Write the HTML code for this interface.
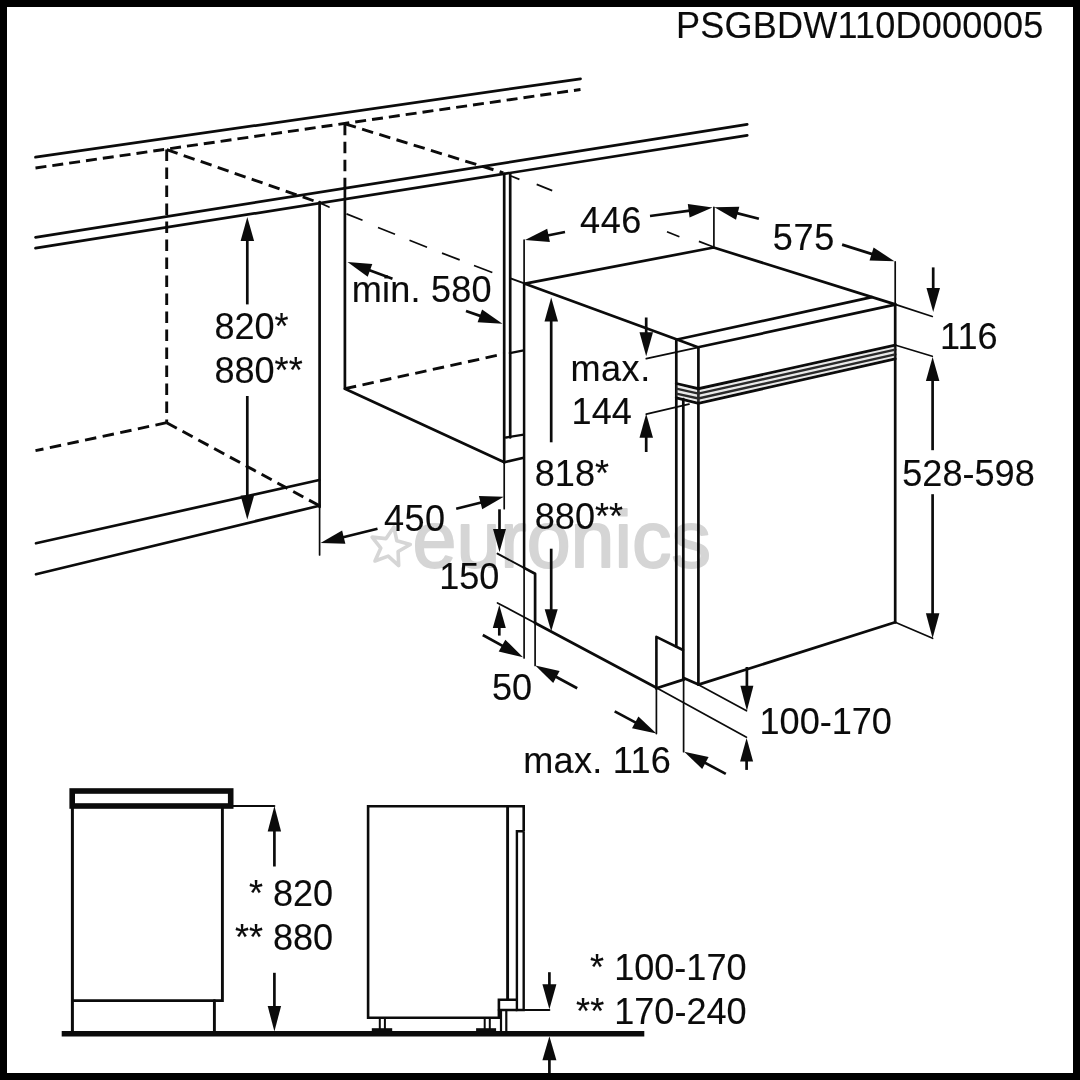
<!DOCTYPE html>
<html><head><meta charset="utf-8"><title>PSGBDW110D000005</title>
<style>
html,body{margin:0;padding:0;background:#fff;}
body{width:1080px;height:1080px;overflow:hidden;position:relative;}
svg{display:block;position:absolute;left:0;top:0;will-change:transform;}
text{font-family:"Liberation Sans",sans-serif;}
</style></head><body>
<svg width="1080" height="1080" viewBox="0 0 1080 1080">
<rect x="0" y="0" width="1080" height="1080" fill="#000"/>
<rect x="7" y="7" width="1066" height="1066" fill="#fff"/>
<text x="412.5" y="566.7" font-size="79" fill="#d5d5d5" stroke="#d5d5d5" stroke-width="1.8" stroke-linejoin="round">euronics</text>
<polygon points="393.9,526.9 396.8,540.7 410.3,544.5 398.1,551.5 398.7,565.6 388.2,556.1 375.0,561.0 380.8,548.1 372.1,537.1 386.1,538.6" fill="none" stroke="#d6d6d6" stroke-width="3.6" stroke-linejoin="round"/>
<line x1="35.5" y1="157.2" x2="580.5" y2="78.8" stroke="#0b0b0b" stroke-width="2.7" stroke-linecap="round"/>
<line x1="35.5" y1="168.0" x2="580.5" y2="89.5" stroke="#0b0b0b" stroke-width="2.9" stroke-linecap="butt" stroke-dasharray="11 6"/>
<line x1="35.5" y1="237.3" x2="747.2" y2="124.4" stroke="#0b0b0b" stroke-width="2.7" stroke-linecap="round"/>
<line x1="35.5" y1="248.2" x2="747.2" y2="135.3" stroke="#0b0b0b" stroke-width="2.7" stroke-linecap="round"/>
<line x1="166.7" y1="149.6" x2="166.7" y2="422.7" stroke="#0b0b0b" stroke-width="2.9" stroke-linecap="butt" stroke-dasharray="11.5 6.5"/>
<line x1="166.7" y1="422.7" x2="35.5" y2="450.7" stroke="#0b0b0b" stroke-width="2.9" stroke-linecap="butt" stroke-dasharray="11.5 6.5"/>
<line x1="166.7" y1="422.7" x2="319.3" y2="505.7" stroke="#0b0b0b" stroke-width="2.9" stroke-linecap="butt" stroke-dasharray="11.5 6.5"/>
<line x1="166.7" y1="149.6" x2="320.0" y2="203.0" stroke="#0b0b0b" stroke-width="2.9" stroke-linecap="butt" stroke-dasharray="11.5 6.5"/>
<line x1="320.0" y1="203.0" x2="329.0" y2="207.0" stroke="#0b0b0b" stroke-width="1.7" stroke-linecap="round"/>
<line x1="319.6" y1="202.2" x2="319.6" y2="507.0" stroke="#0b0b0b" stroke-width="2.7" stroke-linecap="round"/>
<line x1="319.6" y1="507.0" x2="319.6" y2="555.0" stroke="#0b0b0b" stroke-width="1.7" stroke-linecap="round"/>
<line x1="36.0" y1="543.3" x2="319.3" y2="480.0" stroke="#0b0b0b" stroke-width="2.7" stroke-linecap="round"/>
<line x1="36.0" y1="574.3" x2="319.3" y2="505.7" stroke="#0b0b0b" stroke-width="2.7" stroke-linecap="round"/>
<line x1="344.9" y1="123.8" x2="344.9" y2="188.0" stroke="#0b0b0b" stroke-width="2.9" stroke-linecap="butt" stroke-dasharray="11.5 6.5"/>
<line x1="344.9" y1="188.0" x2="344.9" y2="388.7" stroke="#0b0b0b" stroke-width="2.7" stroke-linecap="round"/>
<line x1="344.9" y1="123.8" x2="503.3" y2="172.8" stroke="#0b0b0b" stroke-width="2.9" stroke-linecap="butt" stroke-dasharray="11.5 6.5"/>
<line x1="344.9" y1="388.7" x2="504.3" y2="353.8" stroke="#0b0b0b" stroke-width="2.9" stroke-linecap="butt" stroke-dasharray="11.5 6.5"/>
<line x1="509.8" y1="353.1" x2="523.7" y2="350.4" stroke="#0b0b0b" stroke-width="2.2" stroke-linecap="round"/>
<line x1="344.9" y1="388.7" x2="504.3" y2="462.2" stroke="#0b0b0b" stroke-width="2.7" stroke-linecap="round"/>
<line x1="346.5" y1="213.9" x2="362.5" y2="220.3" stroke="#0b0b0b" stroke-width="1.7" stroke-linecap="butt"/>
<line x1="378.0" y1="227.5" x2="395.0" y2="234.2" stroke="#0b0b0b" stroke-width="1.7" stroke-linecap="butt"/>
<line x1="409.5" y1="240.3" x2="427.0" y2="247.2" stroke="#0b0b0b" stroke-width="1.7" stroke-linecap="butt"/>
<line x1="442.0" y1="253.1" x2="459.7" y2="259.9" stroke="#0b0b0b" stroke-width="1.7" stroke-linecap="butt"/>
<line x1="474.0" y1="265.5" x2="492.3" y2="272.5" stroke="#0b0b0b" stroke-width="1.7" stroke-linecap="butt"/>
<line x1="511.0" y1="176.0" x2="519.4" y2="179.4" stroke="#0b0b0b" stroke-width="1.7" stroke-linecap="butt"/>
<line x1="536.7" y1="184.4" x2="552.2" y2="190.6" stroke="#0b0b0b" stroke-width="1.7" stroke-linecap="butt"/>
<line x1="667.0" y1="231.7" x2="679.4" y2="236.7" stroke="#0b0b0b" stroke-width="1.7" stroke-linecap="butt"/>
<line x1="698.9" y1="241.4" x2="713.6" y2="247.0" stroke="#0b0b0b" stroke-width="1.7" stroke-linecap="butt"/>
<line x1="504.2" y1="173.9" x2="504.2" y2="462.2" stroke="#0b0b0b" stroke-width="2.7" stroke-linecap="round"/>
<line x1="510.2" y1="173.9" x2="510.2" y2="437.5" stroke="#0b0b0b" stroke-width="2.7" stroke-linecap="round"/>
<line x1="504.2" y1="462.2" x2="504.2" y2="508.7" stroke="#0b0b0b" stroke-width="1.7" stroke-linecap="round"/>
<line x1="506.0" y1="437.5" x2="523.7" y2="434.6" stroke="#0b0b0b" stroke-width="2.3" stroke-linecap="round"/>
<line x1="504.3" y1="462.2" x2="523.7" y2="457.8" stroke="#0b0b0b" stroke-width="2.7" stroke-linecap="round"/>
<line x1="524.1" y1="240.0" x2="524.1" y2="283.7" stroke="#0b0b0b" stroke-width="1.7" stroke-linecap="round"/>
<line x1="524.1" y1="283.7" x2="524.1" y2="567.9" stroke="#0b0b0b" stroke-width="2.5" stroke-linecap="round"/>
<line x1="524.1" y1="567.9" x2="524.1" y2="658.0" stroke="#0b0b0b" stroke-width="1.7" stroke-linecap="round"/>
<line x1="510.5" y1="278.3" x2="525.0" y2="283.7" stroke="#0b0b0b" stroke-width="1.9" stroke-linecap="round"/>
<polyline points="677.0,339.5 525.0,283.7 713.7,247.5 895.2,304.4" fill="none" stroke="#0b0b0b" stroke-width="2.7" stroke-linejoin="round" stroke-linecap="round"/>
<line x1="895.2" y1="304.4" x2="932.3" y2="316.5" stroke="#0b0b0b" stroke-width="1.7" stroke-linecap="round"/>
<line x1="713.9" y1="207.3" x2="713.9" y2="247.4" stroke="#0b0b0b" stroke-width="1.7" stroke-linecap="round"/>
<polyline points="677.0,339.5 871.9,297.1" fill="none" stroke="#0b0b0b" stroke-width="2.7" stroke-linejoin="round" stroke-linecap="round"/>
<polyline points="698.0,347.3 895.2,304.6" fill="none" stroke="#0b0b0b" stroke-width="2.7" stroke-linejoin="round" stroke-linecap="round"/>
<line x1="677.0" y1="339.5" x2="698.0" y2="347.3" stroke="#0b0b0b" stroke-width="2.7" stroke-linecap="round"/>
<line x1="676.3" y1="339.5" x2="676.3" y2="646.5" stroke="#0b0b0b" stroke-width="2.7" stroke-linecap="round"/>
<line x1="698.4" y1="347.3" x2="698.4" y2="684.3" stroke="#0b0b0b" stroke-width="2.7" stroke-linecap="round"/>
<line x1="895.2" y1="261.8" x2="895.2" y2="304.0" stroke="#0b0b0b" stroke-width="1.7" stroke-linecap="round"/>
<line x1="895.2" y1="304.0" x2="895.2" y2="622.3" stroke="#0b0b0b" stroke-width="2.7" stroke-linecap="round"/>
<polyline points="676.3,383.5 698.4,388.7 895.2,345.2" fill="none" stroke="#0b0b0b" stroke-width="2.8" stroke-linejoin="miter" stroke-linecap="round"/>
<polyline points="676.3,388.7 698.4,393.6 895.2,349.7" fill="none" stroke="#0b0b0b" stroke-width="2.4" stroke-linejoin="miter" stroke-linecap="round"/>
<polyline points="676.3,393.7 698.4,398.4 895.2,354.3" fill="none" stroke="#0b0b0b" stroke-width="2.4" stroke-linejoin="miter" stroke-linecap="round"/>
<polyline points="676.3,397.8 698.4,403.3 895.2,358.8" fill="none" stroke="#0b0b0b" stroke-width="2.8" stroke-linejoin="miter" stroke-linecap="round"/>
<polygon points="676.3,385 698.4,390.2 895.2,346.6 895.2,357.4 698.4,401.8 676.3,396.3" fill="#9a9a9a" opacity="0.22"/>
<line x1="683.3" y1="399.0" x2="683.3" y2="678.0" stroke="#0b0b0b" stroke-width="2.7" stroke-linecap="round"/>
<line x1="646.3" y1="358.7" x2="698.2" y2="347.3" stroke="#0b0b0b" stroke-width="1.7" stroke-linecap="round"/>
<line x1="646.3" y1="414.2" x2="689.0" y2="404.2" stroke="#0b0b0b" stroke-width="1.7" stroke-linecap="round"/>
<line x1="895.8" y1="345.2" x2="932.3" y2="356.3" stroke="#0b0b0b" stroke-width="1.7" stroke-linecap="round"/>
<line x1="698.5" y1="684.6" x2="895.2" y2="622.3" stroke="#0b0b0b" stroke-width="2.7" stroke-linecap="round"/>
<line x1="895.2" y1="622.3" x2="932.6" y2="638.3" stroke="#0b0b0b" stroke-width="1.7" stroke-linecap="round"/>
<line x1="497.5" y1="602.9" x2="535.1" y2="623.0" stroke="#0b0b0b" stroke-width="1.7" stroke-linecap="round"/>
<line x1="535.1" y1="623.0" x2="656.4" y2="687.8" stroke="#0b0b0b" stroke-width="2.7" stroke-linecap="round"/>
<line x1="656.4" y1="687.8" x2="746.5" y2="737.2" stroke="#0b0b0b" stroke-width="1.7" stroke-linecap="round"/>
<line x1="497.5" y1="553.6" x2="524.1" y2="567.9" stroke="#0b0b0b" stroke-width="1.9" stroke-linecap="round"/>
<polyline points="524.1,567.9 535.1,573.7 535.1,623.0" fill="none" stroke="#0b0b0b" stroke-width="2.7" stroke-linejoin="round" stroke-linecap="round"/>
<line x1="535.1" y1="623.0" x2="535.1" y2="665.4" stroke="#0b0b0b" stroke-width="1.7" stroke-linecap="round"/>
<polyline points="656.4,688.5 656.4,636.8 683.0,650.0" fill="none" stroke="#0b0b0b" stroke-width="2.6" stroke-linejoin="round" stroke-linecap="round"/>
<line x1="656.4" y1="688.5" x2="656.4" y2="733.6" stroke="#0b0b0b" stroke-width="1.7" stroke-linecap="round"/>
<line x1="683.6" y1="678.0" x2="683.6" y2="751.7" stroke="#0b0b0b" stroke-width="1.7" stroke-linecap="round"/>
<line x1="656.4" y1="688.3" x2="684.2" y2="679.4" stroke="#0b0b0b" stroke-width="2.7" stroke-linecap="round"/>
<line x1="684.2" y1="678.2" x2="698.5" y2="684.6" stroke="#0b0b0b" stroke-width="2.7" stroke-linecap="round"/>
<line x1="698.5" y1="684.8" x2="746.5" y2="710.8" stroke="#0b0b0b" stroke-width="1.7" stroke-linecap="round"/>
<line x1="247.3" y1="304.4" x2="247.3" y2="236.1" stroke="#0b0b0b" stroke-width="2.7" stroke-linecap="butt"/>
<polygon points="247.3,216.9 254.1,240.9 240.6,240.9" fill="#0b0b0b"/>
<line x1="247.3" y1="396.0" x2="247.3" y2="500.3" stroke="#0b0b0b" stroke-width="2.7" stroke-linecap="butt"/>
<polygon points="247.3,519.5 240.6,495.5 254.1,495.5" fill="#0b0b0b"/>
<line x1="392.5" y1="278.7" x2="365.5" y2="268.7" stroke="#0b0b0b" stroke-width="2.7" stroke-linecap="butt"/>
<polygon points="347.5,262.0 372.3,264.0 367.7,276.7" fill="#0b0b0b"/>
<line x1="466.0" y1="311.0" x2="484.4" y2="317.4" stroke="#0b0b0b" stroke-width="2.7" stroke-linecap="butt"/>
<polygon points="502.5,323.7 477.6,322.2 482.1,309.4" fill="#0b0b0b"/>
<line x1="565.0" y1="232.0" x2="543.8" y2="236.2" stroke="#0b0b0b" stroke-width="2.7" stroke-linecap="butt"/>
<polygon points="525.0,240.0 547.2,228.7 549.9,241.9" fill="#0b0b0b"/>
<line x1="650.0" y1="216.0" x2="693.5" y2="210.1" stroke="#0b0b0b" stroke-width="2.7" stroke-linecap="butt"/>
<polygon points="712.5,207.5 689.6,217.4 687.8,204.0" fill="#0b0b0b"/>
<line x1="758.9" y1="218.7" x2="733.0" y2="212.1" stroke="#0b0b0b" stroke-width="2.7" stroke-linecap="butt"/>
<polygon points="714.4,207.3 739.3,206.7 736.0,219.8" fill="#0b0b0b"/>
<line x1="842.1" y1="244.6" x2="876.1" y2="255.4" stroke="#0b0b0b" stroke-width="2.7" stroke-linecap="butt"/>
<polygon points="894.4,261.2 869.5,260.4 873.6,247.5" fill="#0b0b0b"/>
<line x1="933.2" y1="267.4" x2="933.2" y2="292.8" stroke="#0b0b0b" stroke-width="2.7" stroke-linecap="butt"/>
<polygon points="933.2,312.0 926.5,288.0 940.0,288.0" fill="#0b0b0b"/>
<line x1="932.6" y1="450.2" x2="932.6" y2="376.2" stroke="#0b0b0b" stroke-width="2.7" stroke-linecap="butt"/>
<polygon points="932.6,357.0 939.4,381.0 925.9,381.0" fill="#0b0b0b"/>
<line x1="932.6" y1="494.2" x2="932.6" y2="618.3" stroke="#0b0b0b" stroke-width="2.7" stroke-linecap="butt"/>
<polygon points="932.6,638.3 925.9,613.3 939.4,613.3" fill="#0b0b0b"/>
<line x1="646.2" y1="317.5" x2="646.2" y2="337.0" stroke="#0b0b0b" stroke-width="2.7" stroke-linecap="butt"/>
<polygon points="646.2,356.2 639.5,332.2 653.0,332.2" fill="#0b0b0b"/>
<line x1="646.2" y1="452.0" x2="646.2" y2="432.9" stroke="#0b0b0b" stroke-width="2.7" stroke-linecap="butt"/>
<polygon points="646.2,413.7 653.0,437.7 639.5,437.7" fill="#0b0b0b"/>
<line x1="551.2" y1="442.3" x2="551.2" y2="316.7" stroke="#0b0b0b" stroke-width="2.7" stroke-linecap="butt"/>
<polygon points="551.2,297.5 558.0,321.5 544.5,321.5" fill="#0b0b0b"/>
<line x1="551.2" y1="548.7" x2="551.2" y2="613.6" stroke="#0b0b0b" stroke-width="2.7" stroke-linecap="butt"/>
<polygon points="551.2,631.2 544.7,609.2 557.7,609.2" fill="#0b0b0b"/>
<line x1="456.2" y1="508.7" x2="485.2" y2="501.5" stroke="#0b0b0b" stroke-width="2.7" stroke-linecap="butt"/>
<polygon points="503.8,496.8 482.2,509.2 478.9,496.1" fill="#0b0b0b"/>
<line x1="377.5" y1="528.7" x2="339.1" y2="538.3" stroke="#0b0b0b" stroke-width="2.7" stroke-linecap="butt"/>
<polygon points="320.5,543.0 342.1,530.6 345.4,543.7" fill="#0b0b0b"/>
<line x1="499.5" y1="509.3" x2="499.5" y2="533.7" stroke="#0b0b0b" stroke-width="2.7" stroke-linecap="butt"/>
<polygon points="499.5,552.1 493.0,529.1 506.0,529.1" fill="#0b0b0b"/>
<line x1="499.3" y1="635.6" x2="499.3" y2="623.4" stroke="#0b0b0b" stroke-width="2.7" stroke-linecap="butt"/>
<polygon points="499.3,605.0 505.8,628.0 492.8,628.0" fill="#0b0b0b"/>
<line x1="482.8" y1="635.0" x2="506.2" y2="647.9" stroke="#0b0b0b" stroke-width="2.7" stroke-linecap="butt"/>
<polygon points="523.0,657.2 498.7,651.5 505.3,639.7" fill="#0b0b0b"/>
<line x1="577.2" y1="688.3" x2="552.2" y2="674.7" stroke="#0b0b0b" stroke-width="2.7" stroke-linecap="butt"/>
<polygon points="535.3,665.6 559.6,671.1 553.2,683.0" fill="#0b0b0b"/>
<line x1="614.7" y1="711.4" x2="639.5" y2="724.6" stroke="#0b0b0b" stroke-width="2.7" stroke-linecap="butt"/>
<polygon points="656.4,733.6 632.0,728.3 638.4,716.4" fill="#0b0b0b"/>
<line x1="725.8" y1="773.9" x2="701.1" y2="760.7" stroke="#0b0b0b" stroke-width="2.7" stroke-linecap="butt"/>
<polygon points="684.2,751.7 708.6,757.0 702.2,769.0" fill="#0b0b0b"/>
<line x1="746.9" y1="667.0" x2="746.9" y2="690.8" stroke="#0b0b0b" stroke-width="2.7" stroke-linecap="butt"/>
<polygon points="746.9,710.8 740.4,685.8 753.4,685.8" fill="#0b0b0b"/>
<line x1="746.6" y1="769.9" x2="746.6" y2="756.8" stroke="#0b0b0b" stroke-width="2.7" stroke-linecap="butt"/>
<polygon points="746.6,737.9 753.1,761.5 740.1,761.5" fill="#0b0b0b"/>
<text x="675.9" y="37.6" font-size="36.1" text-anchor="start" fill="#0b0b0b" stroke="#0b0b0b" stroke-width="0.12" letter-spacing="0.2">PSGBDW110D000005</text>
<text x="214.4" y="339.2" font-size="36.1" text-anchor="start" fill="#0b0b0b" stroke="#0b0b0b" stroke-width="0.12">820*</text>
<text x="214.4" y="382.9" font-size="36.1" text-anchor="start" fill="#0b0b0b" stroke="#0b0b0b" stroke-width="0.12">880**</text>
<text x="351.8" y="302.0" font-size="36.1" text-anchor="start" fill="#0b0b0b" stroke="#0b0b0b" stroke-width="0.12" letter-spacing="0.2">min. 580</text>
<text x="580.1" y="232.5" font-size="36.1" text-anchor="start" fill="#0b0b0b" stroke="#0b0b0b" stroke-width="0.12" letter-spacing="0.5">446</text>
<text x="772.8" y="250.0" font-size="36.1" text-anchor="start" fill="#0b0b0b" stroke="#0b0b0b" stroke-width="0.12" letter-spacing="0.6">575</text>
<text x="940.1" y="349.3" font-size="36.1" text-anchor="start" fill="#0b0b0b" stroke="#0b0b0b" stroke-width="0.12">116</text>
<text x="570.5" y="380.6" font-size="36.1" text-anchor="start" fill="#0b0b0b" stroke="#0b0b0b" stroke-width="0.12" letter-spacing="0.5">max.</text>
<text x="571.6" y="423.8" font-size="36.1" text-anchor="start" fill="#0b0b0b" stroke="#0b0b0b" stroke-width="0.12">144</text>
<text x="902.3" y="485.8" font-size="36.1" text-anchor="start" fill="#0b0b0b" stroke="#0b0b0b" stroke-width="0.12">528-598</text>
<text x="534.8" y="485.8" font-size="36.1" text-anchor="start" fill="#0b0b0b" stroke="#0b0b0b" stroke-width="0.12">818*</text>
<text x="534.8" y="529.3" font-size="36.1" text-anchor="start" fill="#0b0b0b" stroke="#0b0b0b" stroke-width="0.12">880**</text>
<text x="384.1" y="531.4" font-size="36.1" text-anchor="start" fill="#0b0b0b" stroke="#0b0b0b" stroke-width="0.12" letter-spacing="0.4">450</text>
<text x="439.2" y="589.2" font-size="36.1" text-anchor="start" fill="#0b0b0b" stroke="#0b0b0b" stroke-width="0.12">150</text>
<text x="491.9" y="699.9" font-size="36.1" text-anchor="start" fill="#0b0b0b" stroke="#0b0b0b" stroke-width="0.12">50</text>
<text x="523.3" y="772.6" font-size="36.1" text-anchor="start" fill="#0b0b0b" stroke="#0b0b0b" stroke-width="0.12" letter-spacing="0.27">max. 116</text>
<text x="759.5" y="734.1" font-size="36.1" text-anchor="start" fill="#0b0b0b" stroke="#0b0b0b" stroke-width="0.12">100-170</text>
<rect x="72.2" y="791" width="158.5" height="15" fill="none" stroke="#0b0b0b" stroke-width="5.6"/>
<polyline points="72.4,808.0 72.4,1033.0" fill="none" stroke="#0b0b0b" stroke-width="3" stroke-linejoin="round" stroke-linecap="round"/>
<polyline points="222.4,808.0 222.4,1000.6 72.4,1000.6" fill="none" stroke="#0b0b0b" stroke-width="2.9" stroke-linejoin="miter" stroke-linecap="butt"/>
<line x1="214.4" y1="1000.6" x2="214.4" y2="1033.0" stroke="#0b0b0b" stroke-width="2.9" stroke-linecap="round"/>
<line x1="61.7" y1="1033.8" x2="644.3" y2="1033.8" stroke="#0b0b0b" stroke-width="5.6" stroke-linecap="butt"/>
<line x1="233.3" y1="806.0" x2="274.4" y2="806.0" stroke="#0b0b0b" stroke-width="1.9" stroke-linecap="round"/>
<line x1="274.4" y1="866.5" x2="274.4" y2="826.4" stroke="#0b0b0b" stroke-width="2.7" stroke-linecap="butt"/>
<polygon points="274.4,806.0 281.1,831.5 267.7,831.5" fill="#0b0b0b"/>
<line x1="274.4" y1="972.8" x2="274.4" y2="1011.1" stroke="#0b0b0b" stroke-width="2.7" stroke-linecap="butt"/>
<polygon points="274.4,1031.5 267.7,1006.0 281.1,1006.0" fill="#0b0b0b"/>
<text x="248.9" y="906.2" font-size="36.1" text-anchor="start" fill="#0b0b0b" stroke="#0b0b0b" stroke-width="0.12">* 820</text>
<text x="234.9" y="950.1" font-size="36.1" text-anchor="start" fill="#0b0b0b" stroke="#0b0b0b" stroke-width="0.12">** 880</text>
<polyline points="523.7,831.2 523.7,806.2 368.1,806.2 368.1,1017.8 498.9,1017.8 498.9,999.7 516.9,999.7" fill="none" stroke="#0b0b0b" stroke-width="2.6" stroke-linejoin="miter" stroke-linecap="butt"/>
<line x1="507.6" y1="806.2" x2="507.6" y2="999.7" stroke="#0b0b0b" stroke-width="2.9" stroke-linecap="butt"/>
<polyline points="523.7,831.2 516.9,831.2 516.9,1010.0 523.7,1010.0 523.7,831.2" fill="none" stroke="#0b0b0b" stroke-width="2.4" stroke-linejoin="miter" stroke-linecap="butt"/>
<line x1="523.7" y1="1010.0" x2="549.4" y2="1010.0" stroke="#0b0b0b" stroke-width="1.9" stroke-linecap="round"/>
<line x1="498.9" y1="1010.0" x2="516.9" y2="1010.0" stroke="#0b0b0b" stroke-width="2.4" stroke-linecap="round"/>
<line x1="501.0" y1="1010.0" x2="501.0" y2="1031.7" stroke="#0b0b0b" stroke-width="2.2" stroke-linecap="round"/>
<line x1="506.3" y1="1010.0" x2="506.3" y2="1031.7" stroke="#0b0b0b" stroke-width="2.2" stroke-linecap="round"/>
<line x1="379.8" y1="1017.8" x2="379.8" y2="1029.0" stroke="#0b0b0b" stroke-width="2" stroke-linecap="butt"/>
<line x1="384.9" y1="1017.8" x2="384.9" y2="1029.0" stroke="#0b0b0b" stroke-width="2" stroke-linecap="butt"/>
<line x1="371.8" y1="1030.0" x2="392.2" y2="1030.0" stroke="#0b0b0b" stroke-width="3.6" stroke-linecap="butt"/>
<line x1="484.7" y1="1017.8" x2="484.7" y2="1029.0" stroke="#0b0b0b" stroke-width="2" stroke-linecap="butt"/>
<line x1="489.8" y1="1017.8" x2="489.8" y2="1029.0" stroke="#0b0b0b" stroke-width="2" stroke-linecap="butt"/>
<line x1="476.1" y1="1030.0" x2="496.1" y2="1030.0" stroke="#0b0b0b" stroke-width="3.6" stroke-linecap="butt"/>
<line x1="549.4" y1="972.2" x2="549.4" y2="989.2" stroke="#0b0b0b" stroke-width="2.7" stroke-linecap="butt"/>
<polygon points="549.4,1009.2 542.4,984.2 556.4,984.2" fill="#0b0b0b"/>
<line x1="549.4" y1="1073.0" x2="549.4" y2="1055.5" stroke="#0b0b0b" stroke-width="2.7" stroke-linecap="butt"/>
<polygon points="549.4,1036.3 556.4,1060.3 542.4,1060.3" fill="#0b0b0b"/>
<text x="590.1" y="980.1" font-size="36.1" text-anchor="start" fill="#0b0b0b" stroke="#0b0b0b" stroke-width="0.12">* 100-170</text>
<text x="576.1" y="1023.7" font-size="36.1" text-anchor="start" fill="#0b0b0b" stroke="#0b0b0b" stroke-width="0.12">** 170-240</text>
</svg>
</body></html>
